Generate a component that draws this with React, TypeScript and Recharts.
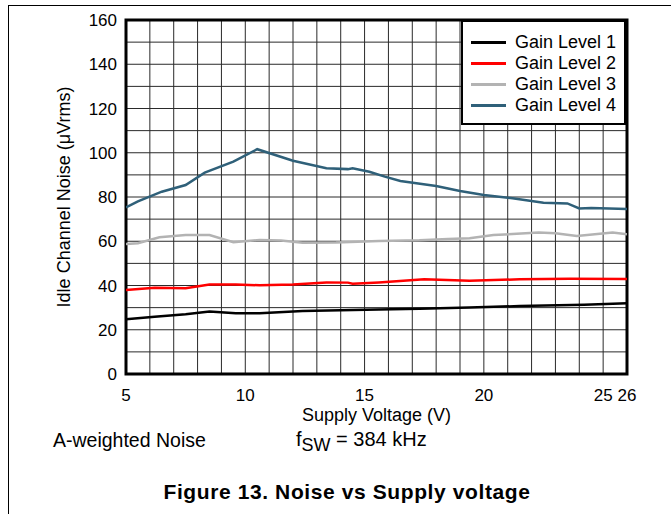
import React from 'react';
import { LineChart, Line, XAxis, YAxis, CartesianGrid, ReferenceArea, Legend } from 'recharts';

const xTicks = [5, 6, 7, 8, 9, 10, 11, 12, 13, 14, 15, 16, 17, 18, 19, 20, 21, 22, 23, 24, 25, 26];
const xTickLabels = [5, 10, 15, 20, 25, 26];
const yTicks = [0, 10, 20, 30, 40, 50, 60, 70, 80, 90, 100, 110, 120, 130, 140, 150, 160];
const yTickLabels = [0, 20, 40, 60, 80, 100, 120, 140, 160];

const seriesNames = ['Gain Level 1', 'Gain Level 2', 'Gain Level 3', 'Gain Level 4'];
const seriesColors = ['#000000', '#ff0000', '#b3b3b3', '#2f6079'];

const gain1Volts = [5, 6.2, 7.5, 8.5, 9.6, 10.6, 12.4, 15.6, 17.3, 19.4, 21.5, 24.2, 26];
const gain1Noise = [24.7, 25.9, 27, 28.2, 27.5, 27.5, 28.5, 29.1, 29.5, 30.1, 30.7, 31.3, 32];

const gain2Volts = [5, 6.2, 7.5, 8.5, 9.6, 10.6, 12.0, 13.4, 14.3, 14.5, 15.6, 17.5, 19.4, 21.5, 23.6, 26];
const gain2Noise = [38, 39, 38.8, 40.5, 40.5, 40.1, 40.5, 41.4, 41.3, 40.8, 41.4, 42.8, 42.1, 42.8, 43.1, 42.9];

const gain3Volts = [5, 5.5, 6.4, 7.5, 8.5, 9.5, 10.6, 11.5, 12.4, 13.8, 15.6, 17.3, 18.5, 19.4, 20.4, 22.3, 23.0, 23.9, 25.4, 26];
const gain3Noise = [58.8, 59.1, 61.8, 62.8, 62.8, 59.6, 60.6, 60.3, 59.3, 59.4, 60.1, 60.4, 61, 61.4, 62.8, 63.9, 63.6, 62.4, 63.9, 63.2];

const gain4Volts = [5, 5.5, 6.5, 7.5, 8.3, 9.5, 10.5, 12.0, 13.4, 14.3, 14.5, 15.2, 15.85, 16.5, 18.0, 19.0, 20.0, 21.2, 22.5, 23.5, 24.0, 24.5, 26];
const gain4Noise = [75.3, 78, 82.4, 85.4, 91, 96, 101.6, 96.4, 93, 92.6, 93, 91.4, 89.2, 87.2, 85, 82.7, 80.9, 79.4, 77.4, 77.1, 74.8, 75, 74.6];

const toPoints = (volts: number[], noise: number[]) => volts.map((v, i) => ({ v, n: noise[i] }));

const series = [
  { name: seriesNames[0], color: seriesColors[0], data: toPoints(gain1Volts, gain1Noise) },
  { name: seriesNames[1], color: seriesColors[1], data: toPoints(gain2Volts, gain2Noise) },
  { name: seriesNames[2], color: seriesColors[2], data: toPoints(gain3Volts, gain3Noise) },
  { name: seriesNames[3], color: seriesColors[3], data: toPoints(gain4Volts, gain4Noise) },
];

const FONT = '"Liberation Sans", Arial, Helvetica, sans-serif';

const LegendBox = () => (
  <div
    style={{
      width: 165,
      height: 105,
      boxSizing: 'border-box',
      border: '2px solid #000',
      background: '#fff',
      paddingTop: 10,
      paddingLeft: 8,
      fontFamily: FONT,
      fontSize: 18,
      color: '#000',
    }}
  >
    {series.map((s) => (
      <div key={s.name} style={{ display: 'flex', alignItems: 'center', height: 21 }}>
        <div style={{ width: 35, height: 3, background: s.color, marginRight: 9 }} />
        <span style={{ lineHeight: '21px', whiteSpace: 'nowrap' }}>{s.name}</span>
      </div>
    ))}
  </div>
);

export default function App() {
  return (
    <div style={{ position: 'absolute', left: 0, top: 0, width: 671, height: 514, background: '#fff', fontFamily: FONT, overflow: 'hidden' }}>
      <div
        style={{
          position: 'absolute',
          left: 8,
          top: 5,
          width: 663,
          height: 509,
          borderLeft: '1px solid #000',
          borderTop: '1px solid #000',
          boxSizing: 'border-box',
        }}
      />
      <div style={{ position: 'absolute', left: 0, top: 0 }}>
        <LineChart width={671} height={430} margin={{ top: 20, right: 44, left: 40, bottom: 6 }}>
          <CartesianGrid stroke="#2a2a2a" strokeWidth={1} />
          <XAxis
            dataKey="v"
            type="number"
            domain={[5, 26]}
            ticks={xTicks}
            interval={0}
            allowDataOverflow
            tickFormatter={(t: number) => (xTickLabels.includes(t) ? String(t) : '')}
            tickLine={false}
            axisLine={false}
            tickSize={0}
            tickMargin={15}
            height={50}
            tick={{ fill: '#000', fontSize: 17, fontFamily: FONT }}
            label={{ value: 'Supply Voltage (V)', position: 'insideBottom', offset: 3, fill: '#000', fontSize: 18, fontFamily: FONT }}
          />
          <YAxis
            type="number"
            domain={[0, 160]}
            ticks={yTicks}
            interval={0}
            tickFormatter={(t: number) => (yTickLabels.includes(t) ? String(t) : '')}
            tickLine={false}
            axisLine={false}
            tickSize={0}
            tickMargin={9}
            width={86}
            tick={{ fill: '#000', fontSize: 17, fontFamily: FONT }}
            label={{
              value: 'Idle Channel Noise (\u03bcVrms)',
              angle: -90,
              position: 'insideLeft',
              offset: 24,
              fill: '#000',
              fontSize: 18,
              fontFamily: FONT,
              style: { textAnchor: 'middle' },
            }}
          />
          {series.map((s) => (
            <Line
              key={s.name}
              data={s.data}
              dataKey="n"
              name={s.name}
              type="linear"
              stroke={s.color}
              strokeWidth={2.5}
              dot={false}
              activeDot={false}
              isAnimationActive={false}
            />
          ))}
          <ReferenceArea x1={5} x2={26} y1={0} y2={160} fill="none" stroke="#000" strokeWidth={3} ifOverflow="visible" />
          <Legend
            layout="vertical"
            align="center"
            verticalAlign="middle"
            content={() => <LegendBox />}
            wrapperStyle={{ position: 'absolute', left: 461, top: 20, width: 165, height: 105 }}
          />
        </LineChart>
      </div>
      <div style={{ position: 'absolute', left: 53, top: 429, fontSize: 19.5, color: '#000', whiteSpace: 'nowrap' }}>
        A-weighted Noise
      </div>
      <div style={{ position: 'absolute', left: 296, top: 428, fontSize: 20, color: '#000', whiteSpace: 'nowrap' }}>
        f<sub style={{ fontSize: 18, verticalAlign: '-5px' }}>SW</sub> = 384 kHz
      </div>
      <div
        style={{
          position: 'absolute',
          left: 0,
          width: 694,
          top: 480,
          textAlign: 'center',
          fontSize: 21,
          letterSpacing: 0.6,
          fontWeight: 'bold',
          color: '#000',
          whiteSpace: 'nowrap',
        }}
      >
        Figure 13. Noise vs Supply voltage
      </div>
    </div>
  );
}
